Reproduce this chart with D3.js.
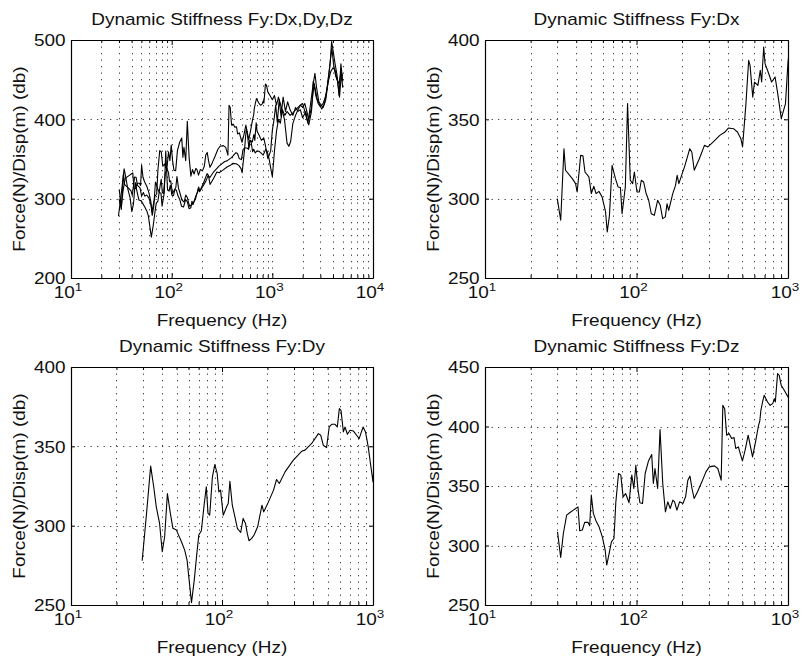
<!DOCTYPE html>
<html>
<head>
<meta charset="utf-8">
<script src="https://cdn.jsdelivr.net/npm/d3@7"></script>
<style>
  body { margin: 0; background: #fff; }
  svg { display: block; }
  text { font-family: "Liberation Sans", Arial, Helvetica, sans-serif; fill: #111; font-weight: normal; }
</style>
</head>
<body>
<svg id="chart" width="804" height="665"></svg>
<script>
// Dynamic stiffness, force Fy over displacement (dB), [frequency Hz, value]
const stiffnessDx = [[30,300],[31.6,286.4],[33.2,331.5],[34,317.9],[37.7,312.6],[39.6,309.5],[40.6,304.2],[42.8,327.3],[44.3,327],[45.7,316.8],[48.5,313.7],[50.3,303.2],[52.3,307.8],[54.1,303.2],[56.5,304.6],[59.3,301],[62.5,291.6],[64.1,279],[66.3,289.5],[69,321],[72.6,312.6],[75.6,307.4],[78.3,307],[80.3,290.5],[84.4,307.4],[87.3,359.9],[91,311.6],[94.3,309.5],[96.8,316.8],[100.7,304.2],[104.4,304.2],[107.6,311.6],[111.5,310.5],[115.5,303.6],[120.3,299],[125.2,290.5],[131.1,289.5],[137.9,299],[143.5,295.8],[148.8,287.4],[155,288.5],[159,296.8],[163.1,292.6],[173.5,303.2],[180.8,308.2],[185.5,314.7],[190.3,309.5],[208.9,321],[224.7,331.5],[231.8,329.4],[240.5,317.9],[259.9,325.2],[280.9,333.6],[295.9,332.6],[320,335.7],[354.8,339.9],[383.3,342],[403.7,344.5],[436.9,344.1],[463.9,342],[488.6,337.8],[501.2,332.6],[527.7,359.9],[550,387.2],[561.6,384],[585.3,364],[600.8,373.5],[632.6,371.4],[656.2,380.9],[669.9,373.5],[691.2,395.6],[705.6,385.1],[739.4,379.8],[779.6,373.5],[821.9,376.7],[852.5,367.2],[903.2,350.4],[962.2,359.9],[1000,386.1],[1040,400],[1080,418],[1120,396],[1170,425],[1220,404],[1280,428],[1350,410],[1420,422],[1500,412],[1600,405],[1700,415],[1800,410],[1900,412],[2000,402],[2150,410],[2260,395],[2400,420],[2550,445],[2650,458],[2750,440],[2900,422],[3050,418],[3200,415],[3400,425],[3600,450],[3750,470],[3880,498],[4000,488],[4200,470],[4400,455],[4600,430],[4800,470],[5000,448]];

const stiffnessDy = [[29.6,277.9],[31.5,305.6],[33.7,337.5],[35.3,324.5],[36.7,311.9],[38.6,301.4],[40.2,283.6],[41.7,293],[43.5,320.3],[45.5,307.7],[47.3,298.3],[49.9,297.2],[53.9,289.9],[56.6,284.6],[58.7,278.3],[60.6,265.7],[62.8,251.5],[65.5,265.7],[67.8,280.4],[70.2,294.1],[73,296.8],[76.1,312.9],[78.7,324.5],[80.8,307.7],[82.9,306.6],[86.4,330.8],[89.6,338.5],[92.9,332.9],[95.3,321.3],[97.8,322.4],[101.9,306.6],[107.3,311.9],[110,314],[112.8,328],[117,312.9],[121.8,305.6],[126.4,298.3],[133,295.7],[138,304.6],[143.1,301.4],[147,295.1],[150.9,290.5],[157.3,292],[163.1,294.1],[172.2,299.3],[184,312.9],[188.9,308.7],[203.1,315],[219.4,322.4],[229.8,329.1],[239.7,326.6],[261.5,333.9],[296.9,341.3],[336.7,346.9],[354.6,347.6],[392.6,351.8],[434.8,358],[450.5,357],[468.5,350.7],[492.6,349.2],[512.9,362.2],[532.8,363.9],[560.2,363.9],[580.4,362.2],[598.5,373.8],[613.9,372.7],[636.5,359.1],[652.6,362.2],[676.9,357.6],[704.3,360.1],[740.6,359.7],[778.7,357],[810,354.9],[830.6,358],[860.5,362.2],[892.1,359.1],[929.8,349.7],[961.9,339.2],[1000,327.6],[1050,360],[1100,385],[1150,400],[1200,395],[1260,412],[1330,405],[1400,410],[1500,405],[1600,408],[1700,412],[1800,415],[1900,418],[2000,415],[2100,420],[2200,410],[2300,400],[2450,415],[2600,445],[2700,430],[2850,420],[3000,416],[3200,420],[3400,430],[3600,448],[3800,460],[4000,465],[4200,462],[4400,450],[4600,445],[4800,460],[5000,455]];

const stiffnessDz = [[30.1,311.5],[31.6,290],[32.9,310.1],[34.6,325.5],[36.2,327.5],[38.3,329.7],[39.7,331.1],[41.1,332.5],[42.2,312.4],[43.9,313],[45.5,319.4],[47.9,319.4],[49.1,316.6],[50.3,342.3],[51.9,327],[53.8,321.3],[56.6,315.7],[59.5,307.3],[62.1,296.2],[63.6,283.6],[66,293.4],[68.3,303.1],[71,305.9],[73,335.9],[76.1,360.5],[78.8,359.1],[81.6,340.9],[84.8,343.7],[89.3,335.9],[93.1,359.1],[96,347.9],[99,367.5],[102.1,347.9],[105.3,335.9],[109.6,335.3],[114.1,360.5],[120,371.1],[126,376.4],[129.2,352.1],[132.4,364.7],[137.9,347.9],[143,397.4],[149,352.1],[155.2,328.3],[161,336.7],[166.9,331.1],[173.8,338.1],[178.4,336.7],[184.8,329.7],[192.5,336.7],[202.5,335.3],[210.9,340.9],[218.2,354.9],[225.5,358.3],[232.4,347.9],[240.1,339.5],[252.8,345.1],[270,353.5],[287.2,361.9],[302.4,366.1],[326.7,366.9],[344.1,364.7],[362.1,354.9],[371.4,417.8],[381.8,415],[393.7,392.7],[408.1,394.1],[424.8,389.9],[440.4,390.7],[451.9,381.5],[470.6,382.9],[480.3,378.7],[500.3,371.1],[521.2,380.1],[545.8,392.7],[562.7,384.3],[583.4,374.5],[613.7,388.5],[636,399.6],[652.3,405.2],[662,413.6],[679.3,420.6],[696.2,426.2],[732.9,420.6],[762.4,417.8],[792.7,419.2],[813.3,423.4],[824.9,420.6],[853.4,444.4],[875,443],[902.1,434.6],[944.2,430.4],[1000,424.8],[1050,430],[1100,418],[1150,428],[1200,420],[1250,412],[1320,400],[1400,370],[1460,366],[1520,372],[1600,395],[1700,405],[1800,412],[1900,418],[2000,420],[2100,410],[2200,400],[2300,393],[2450,410],[2550,448],[2650,440],[2800,425],[2950,418],[3100,413],[3300,420],[3500,440],[3700,465],[3900,490],[4050,470],[4250,455],[4450,448],[4650,428],[4850,458],[5000,440]];

// Axis limits and tick values per panel
const titles = ["Dynamic Stiffness Fy:Dx,Dy,Dz", "Dynamic Stiffness Fy:Dx", "Dynamic Stiffness Fy:Dy", "Dynamic Stiffness Fy:Dz"];
const xLimits = [[10, 10000], [10, 1000], [10, 1000], [10, 1000]];
const yLimits = [[200, 500], [250, 400], [250, 400], [250, 450]];
const yTickValues = [[200, 300, 400, 500], [250, 300, 350, 400], [250, 300, 350, 400], [250, 300, 350, 400, 450]];
const xLabel = "Frequency (Hz)";
const yLabel = "Force(N)/Disp(m) (db)";

const svg = d3.select("#chart");
const FONT = 16.2;       // text size
const WIDE = 1.17;       // glyph widening along the reading direction
const SUP = 11.5;        // exponent size

// panel boxes (left, right, top, bottom)
const boxes = [
  { l: 71, r: 373, t: 40, b: 278 },
  { l: 485, r: 788, t: 40, b: 278 },
  { l: 71, r: 373, t: 367, b: 605 },
  { l: 485, r: 788, t: 367, b: 605 }
];

function textAt(parent, x, y, rot, str) {
  const g = parent.append("g")
    .attr("transform", `translate(${x},${y}) rotate(${rot}) scale(${WIDE},1)`);
  g.append("text").attr("text-anchor", "middle").attr("font-size", FONT).text(str);
  return g;
}

function panel(i, series) {
  const bx = boxes[i];
  const g = svg.append("g");
  const x = d3.scaleLog().domain(xLimits[i]).range([bx.l, bx.r]);
  const y = d3.scaleLinear().domain(yLimits[i]).range([bx.b, bx.t]);
  const xt = x.ticks();
  const isMajor = d => Math.abs(Math.log10(d) - Math.round(Math.log10(d))) < 1e-9;

  // dotted grid
  const grid = g.append("g").attr("stroke", "#444").attr("stroke-width", 1)
    .attr("stroke-dasharray", "1.3,5.2").attr("fill", "none");
  grid.selectAll("line.v").data(xt.filter(d => d > xLimits[i][0] && d < xLimits[i][1]))
    .join("line").attr("class", "v")
    .attr("x1", d => Math.round(x(d)) + 0.5).attr("x2", d => Math.round(x(d)) + 0.5)
    .attr("y1", bx.t).attr("y2", bx.b);
  grid.selectAll("line.h").data(yTickValues[i].filter(d => d > yLimits[i][0] && d < yLimits[i][1]))
    .join("line").attr("class", "h")
    .attr("x1", bx.l).attr("x2", bx.r)
    .attr("y1", d => Math.round(y(d)) + 0.5).attr("y2", d => Math.round(y(d)) + 0.5);

  // data lines
  const clipId = "clip" + i;
  g.append("clipPath").attr("id", clipId).append("rect")
    .attr("x", bx.l).attr("y", bx.t).attr("width", bx.r - bx.l).attr("height", bx.b - bx.t);
  const line = d3.line().x(d => x(d[0])).y(d => y(d[1]));
  g.append("g").attr("clip-path", `url(#${clipId})`)
    .selectAll("path").data(series).join("path")
    .attr("d", line).attr("fill", "none").attr("stroke", "#000")
    .attr("stroke-width", 1.1).attr("stroke-linejoin", "round");

  // axes: ticks point inward on all four sides
  const axB = g.append("g").attr("transform", `translate(0,${bx.b})`)
    .call(d3.axisBottom(x).tickValues(xt).tickSizeInner(-4).tickSizeOuter(0).tickFormat(() => ""));
  axB.selectAll(".tick line").attr("y2", d => isMajor(d) ? -5 : -3);
  const axT = g.append("g").attr("transform", `translate(0,${bx.t})`)
    .call(d3.axisTop(x).tickValues(xt).tickSizeInner(-4).tickSizeOuter(0).tickFormat(() => ""));
  axT.selectAll(".tick line").attr("y2", d => isMajor(d) ? 5 : 3);
  const axL = g.append("g").attr("transform", `translate(${bx.l},0)`)
    .call(d3.axisLeft(y).tickValues(yTickValues[i]).tickSizeInner(-4).tickSizeOuter(0)
      .tickPadding(5).tickFormat(d3.format("d")));
  g.append("g").attr("transform", `translate(${bx.r},0)`)
    .call(d3.axisRight(y).tickValues(yTickValues[i]).tickSizeInner(-4).tickSizeOuter(0).tickFormat(() => ""));
  g.selectAll(".domain").attr("stroke", "#000").attr("stroke-width", 1.2);
  g.selectAll(".tick line").attr("stroke", "#000");

  // y tick labels
  axL.selectAll(".tick text")
    .attr("font-size", FONT).attr("font-family", null).attr("fill", null)
    .attr("x", -5.5 / WIDE).attr("dy", "0.36em")
    .attr("transform", `scale(${WIDE},1)`);

  // x tick labels as powers of ten
  axB.selectAll(".tick").filter(d => isMajor(d)).each(function (d) {
    const lg = d3.select(this).append("g").attr("transform", `translate(-3.5,20) scale(${WIDE},1)`);
    const t = lg.append("text").attr("text-anchor", "middle").attr("font-size", FONT);
    t.append("tspan").text("10");
    t.append("tspan").attr("dy", -7.5).attr("font-size", SUP).text(Math.round(Math.log10(d)));
  });
  axB.selectAll(".tick text").filter(function () { return this.textContent === ""; }).remove();

  // title and axis labels
  const cx = (bx.l + bx.r) / 2, cy = (bx.t + bx.b) / 2;
  textAt(g, cx, bx.t - 15, 0, titles[i]);
  textAt(g, cx, bx.b + 48, 0, xLabel);
  textAt(g, bx.l - 46, cy, -90, yLabel);
}

panel(0, [stiffnessDx, stiffnessDy, stiffnessDz]);
panel(1, [stiffnessDx]);
panel(2, [stiffnessDy]);
panel(3, [stiffnessDz]);
</script>
</body>
</html>
